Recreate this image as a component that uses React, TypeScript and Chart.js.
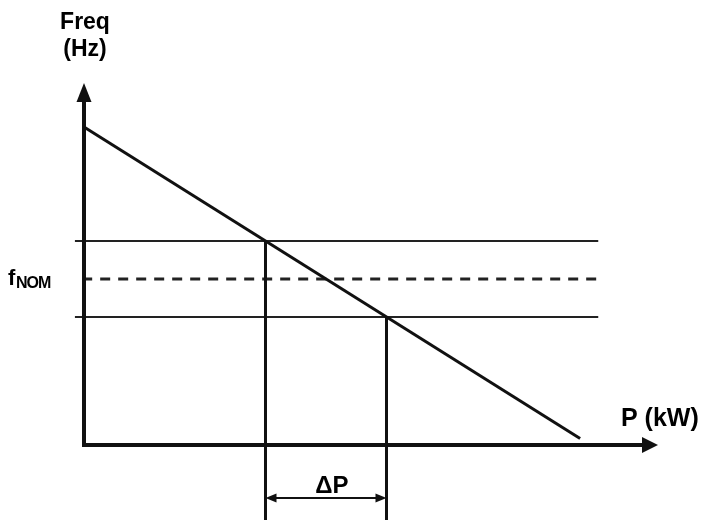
import React, { useEffect, useRef } from "react";
import { Chart, registerables } from "chart.js";

Chart.register(...registerables);

// ---- data (P in kW, f in Hz) ----
const droopP = [0, 41];
const droopF = [52, 47.9];
const nominalF = 50;
const bandF = [50.5, 49.5]; // upper, lower limits
const operatingP = [15, 25]; // P at upper / lower band crossing
const bandLineP = [-0.75, 42.5];
const nomLineP = [-0.15, 42.5];
const axisOriginP = 0;
const axisOriginF = 47.816;
const axisLineEndP = 46.3;
const axisTipP = 47.44;
const axisLineEndF = 52.38;
const axisTipF = 52.58;
const deltaArrowF = 47.12;
const deltaLineP = [15.5, 24.5];
const scaleP = [-6.942, 51.24];
const scaleF = [46.829, 53.671];

// ---- labels ----
const yTitle = ["Freq", "(Hz)"];
const xTitle = "P (kW)";
const nomLabel = ["f", "NOM"];
const deltaLabel = "ΔP";

const FONT = "'Liberation Sans', Arial, sans-serif";
const INK = "#111";

function pts(xs: number[], ys: number[]) {
  return xs.map((x, i) => ({ x, y: ys[i] }));
}

function arrowHead(
  ctx: CanvasRenderingContext2D,
  tx: number,
  ty: number,
  angle: number,
  len: number,
  half: number
) {
  const bx = tx - Math.cos(angle) * len;
  const by = ty - Math.sin(angle) * len;
  const nx = -Math.sin(angle) * half;
  const ny = Math.cos(angle) * half;
  ctx.beginPath();
  ctx.moveTo(tx, ty);
  ctx.lineTo(bx + nx, by + ny);
  ctx.lineTo(bx - nx, by - ny);
  ctx.closePath();
  ctx.fill();
}

const decorations = {
  id: "decorations",
  afterDatasetsDraw(chart: any) {
    const ctx: any = chart.ctx;
    const xs = chart.scales.x;
    const ys = chart.scales.y;
    const px = (v: number) => xs.getPixelForValue(v);
    const py = (v: number) => ys.getPixelForValue(v);
    ctx.save();
    ctx.fillStyle = INK;
    // axis arrowheads
    arrowHead(ctx, px(axisOriginP), py(axisTipF), -Math.PI / 2, 19, 7.5);
    arrowHead(ctx, px(axisTipP), py(axisOriginF), 0, 16, 8);
    // delta P arrowheads
    arrowHead(ctx, px(operatingP[0]), py(deltaArrowF), Math.PI, 11, 4.5);
    arrowHead(ctx, px(operatingP[1]), py(deltaArrowF), 0, 11, 4.5);

    // texts
    ctx.fillStyle = "#000";
    ctx.textBaseline = "alphabetic";
    ctx.font = `bold 23px ${FONT}`;
    ctx.textAlign = "center";
    ctx.fillText(yTitle[0], px(axisOriginP) + 1, 29);
    ctx.fillText(yTitle[1], px(axisOriginP) + 1, 56);

    ctx.textAlign = "left";
    ctx.font = `bold 25px ${FONT}`;
    ctx.fillText(xTitle, 621, 426);

    ctx.textAlign = "center";
    ctx.font = `bold 24px ${FONT}`;
    ctx.fillText(deltaLabel, (px(operatingP[0]) + px(operatingP[1])) / 2 + 6, 493);

    ctx.textAlign = "left";
    ctx.font = `bold 22px ${FONT}`;
    const fy = py(nominalF) + 6;
    ctx.fillText(nomLabel[0], 8, fy);
    ctx.font = `bold 16px ${FONT}`;
    if ("letterSpacing" in ctx) ctx.letterSpacing = "-1px";
    ctx.fillText(nomLabel[1], 16, fy + 3);
    ctx.restore();
  },
};

export default function App() {
  const ref = useRef<HTMLCanvasElement | null>(null);
  useEffect(() => {
    if (!ref.current) return;
    const line = (data: any[], extra: any = {}) => ({
      data,
      showLine: true,
      borderColor: INK,
      backgroundColor: INK,
      pointRadius: 0,
      pointHoverRadius: 0,
      tension: 0,
      borderWidth: 3,
      ...extra,
    });
    const chart = new Chart(ref.current, {
      type: "scatter",
      data: {
        datasets: [
          // droop characteristic
          line(pts(droopP, droopF), { borderWidth: 3, order: 0 }),
          // axes
          line(
            [
              { x: axisOriginP, y: axisLineEndF },
              { x: axisOriginP, y: axisOriginF },
              { x: axisLineEndP, y: axisOriginF },
            ],
            { borderWidth: 4, borderJoinStyle: "miter", order: 1 }
          ),
          // band limits
          line(pts(bandLineP, [bandF[0], bandF[0]]), { borderWidth: 2, borderColor: "#222", order: 2 }),
          line(pts(bandLineP, [bandF[1], bandF[1]]), { borderWidth: 2, borderColor: "#222", order: 2 }),
          // nominal (dashed)
          line(pts(nomLineP, [nominalF, nominalF]), {
            borderWidth: 3,
            borderColor: "#222",
            borderDash: [10, 8],
            order: 2,
          }),
          // vertical drop lines
          line(pts([operatingP[0], operatingP[0]], [bandF[0], scaleF[0]]), { borderWidth: 3, order: 1 }),
          line(pts([operatingP[1], operatingP[1]], [bandF[1], scaleF[0]]), { borderWidth: 3, order: 1 }),
          // delta P dimension line
          line(pts(deltaLineP, [deltaArrowF, deltaArrowF]), { borderWidth: 2, order: 1 }),
        ],
      },
      options: {
        responsive: false,
        animation: false,
        events: [],
        layout: { padding: 0 },
        plugins: { legend: { display: false }, tooltip: { enabled: false } },
        scales: {
          x: { type: "linear", display: false, min: scaleP[0], max: scaleP[1] },
          y: { type: "linear", display: false, min: scaleF[0], max: scaleF[1] },
        },
      },
      plugins: [decorations],
    } as any);
    return () => chart.destroy();
  }, []);
  return (
    <div style={{ position: "absolute", left: 0, top: 0, width: 704, height: 520, background: "#fff" }}>
      <canvas ref={ref} width={704} height={520} />
    </div>
  );
}
